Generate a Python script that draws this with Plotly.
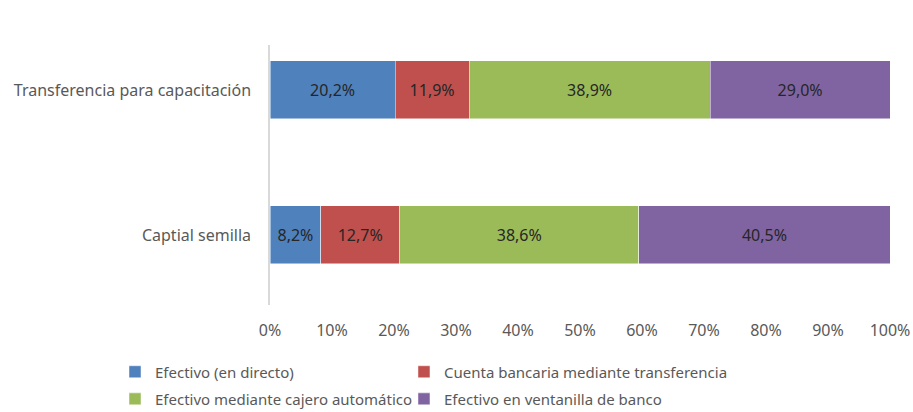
import plotly.graph_objects as go

categories = ["Captial semilla", "Transferencia para capacitación"]
series_names = [
    "Efectivo (en directo)",
    "Cuenta bancaria mediante transferencia",
    "Efectivo mediante cajero automático",
    "Efectivo en ventanilla de banco",
]
efectivo_directo = [8.2, 20.2]
cuenta_bancaria = [12.7, 11.9]
cajero_automatico = [38.6, 38.9]
ventanilla_banco = [40.5, 29.0]
x_tick_vals = [0, 10, 20, 30, 40, 50, 60, 70, 80, 90, 100]
x_tick_text = ["0%", "10%", "20%", "30%", "40%", "50%", "60%", "70%", "80%", "90%", "100%"]

colors = ["#4F81BD", "#C0504D", "#9BBB59", "#8064A2"]
legend_ids = ["legend", "legend2", "legend3", "legend4"]
FONT = "Noto Sans"

def fmt(v):
    return f"{v:.1f}".replace(".", ",") + "%"

fig = go.Figure()
for name, vals, col, lg in zip(series_names,
                               [efectivo_directo, cuenta_bancaria, cajero_automatico, ventanilla_banco],
                               colors, legend_ids):
    fig.add_trace(go.Bar(
        y=categories, x=vals, name=name, orientation="h",
        marker=dict(color=col, line=dict(color="rgba(255,255,255,0.6)", width=0.8)),
        text=[fmt(v) for v in vals], textposition="inside", insidetextanchor="middle",
        textfont=dict(family=FONT, size=16, color="#262626"),
        width=0.4, legend=lg,
    ))

leg_font = dict(size=15, color="#595959", family=FONT)
col_x = [-0.25, 0.2161]
row_y = [-0.2577, -0.362]

def leg(x, y):
    return dict(orientation="h", x=x, xanchor="left", y=y, yanchor="middle",
                itemwidth=30, font=leg_font, bgcolor="rgba(0,0,0,0)")

fig.update_layout(
    barmode="stack",
    width=913, height=412,
    margin=dict(l=270, r=23, t=45, b=107, autoexpand=False),
    plot_bgcolor="white", paper_bgcolor="white",
    font=dict(family=FONT, size=16, color="#595959"),
    xaxis=dict(range=[0, 100], tickvals=x_tick_vals, ticktext=x_tick_text,
               showgrid=False, zeroline=False, showline=False, automargin=False,
               ticklabelstandoff=14, tickfont=dict(size=16, color="#595959")),
    yaxis=dict(range=[-0.483, 1.31], showgrid=False, zeroline=False, automargin=False,
               showline=True, linecolor="#D9D9D9", linewidth=1.5,
               ticklabelstandoff=14, tickfont=dict(size=16, color="#595959")),
    legend=leg(col_x[0], row_y[0]),
    legend2=leg(col_x[1], row_y[0]),
    legend3=leg(col_x[0], row_y[1]),
    legend4=leg(col_x[1], row_y[1]),
    showlegend=True,
    uniformtext=dict(mode="show", minsize=8),
)

fig.write_html(
    "out.html",
    config={"displayModeBar": False},
    post_script="document.body.style.margin='0px';document.body.style.overflow='hidden';",
)
